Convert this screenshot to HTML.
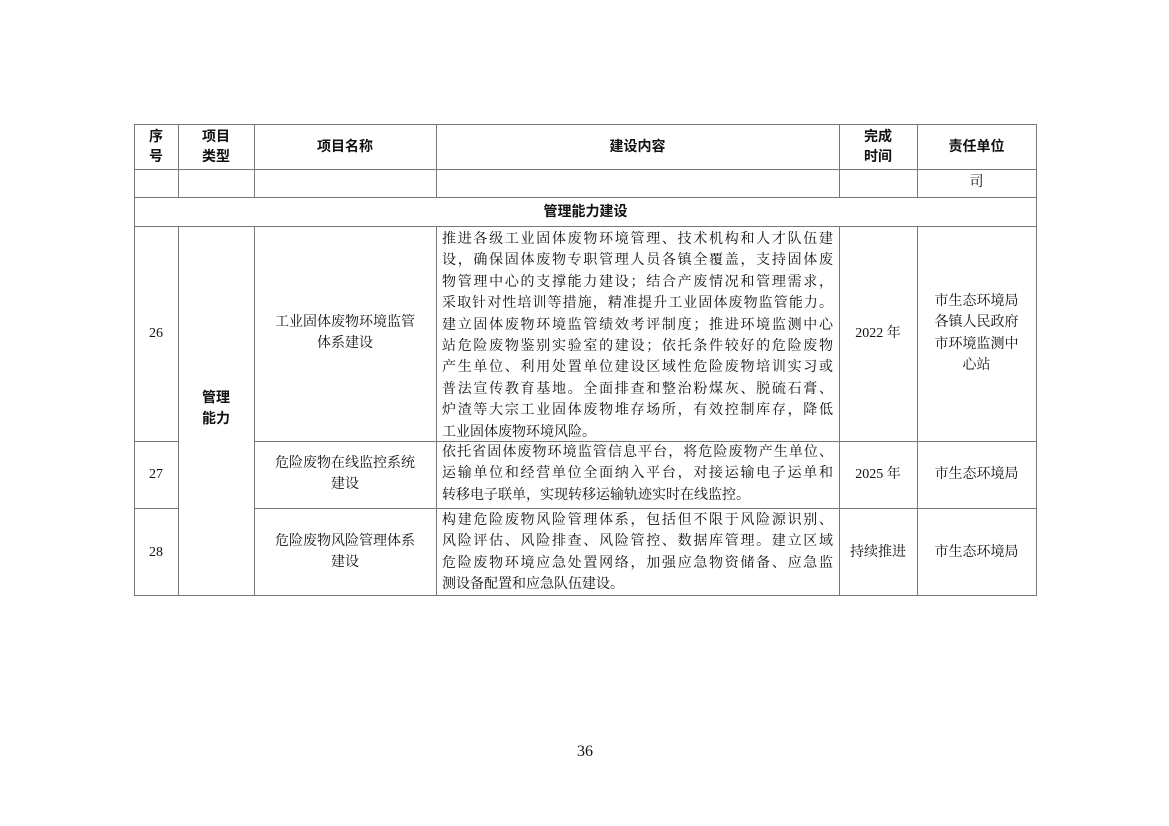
<!DOCTYPE html>
<html><head><meta charset="utf-8"><style>
body{margin:0;background:#fff;width:1169px;height:826px;position:relative;overflow:hidden;font-family:"Liberation Serif","Noto Serif CJK SC","Noto Sans CJK SC",serif;color:#111;}
.h,.v{position:absolute;background:#777;}
.h{height:1px}.v{width:1px}
.t{position:absolute;font-size:14px;line-height:21.4px;text-align:center;}
.b{font-family:"Noto Sans CJK SC",sans-serif;font-weight:bold;}
.c{position:absolute;left:442px;width:391px;font-size:14px;line-height:21.4px;}
.c div{text-align:justify;text-align-last:justify;white-space:nowrap;}
.c div.l{text-align-last:left;}
</style></head><body>
<div class="h" style="left:134px;top:124px;width:903px"></div>
<div class="h" style="left:134px;top:169px;width:903px"></div>
<div class="h" style="left:134px;top:197px;width:903px"></div>
<div class="h" style="left:134px;top:226px;width:903px"></div>
<div class="h" style="left:134px;top:441px;width:44px"></div>
<div class="h" style="left:254px;top:441px;width:783px"></div>
<div class="h" style="left:134px;top:508px;width:44px"></div>
<div class="h" style="left:254px;top:508px;width:783px"></div>
<div class="h" style="left:134px;top:595px;width:903px"></div>
<div class="v" style="left:134px;top:124px;height:472px"></div>
<div class="v" style="left:1036px;top:124px;height:472px"></div>
<div class="v" style="left:178px;top:124px;height:73px"></div>
<div class="v" style="left:254px;top:124px;height:73px"></div>
<div class="v" style="left:436px;top:124px;height:73px"></div>
<div class="v" style="left:839px;top:124px;height:73px"></div>
<div class="v" style="left:917px;top:124px;height:73px"></div>
<div class="v" style="left:178px;top:226px;height:370px"></div>
<div class="v" style="left:254px;top:226px;height:370px"></div>
<div class="v" style="left:436px;top:226px;height:370px"></div>
<div class="v" style="left:839px;top:226px;height:370px"></div>
<div class="v" style="left:917px;top:226px;height:370px"></div>

<div class="t b" style="left:134px;top:126px;width:44px;line-height:20px">序<br>号</div>
<div class="t b" style="left:178px;top:126px;width:76px;line-height:20px">项目<br>类型</div>
<div class="t b" style="left:254px;top:136px;width:182px">项目名称</div>
<div class="t b" style="left:436px;top:136px;width:403px">建设内容</div>
<div class="t b" style="left:839px;top:126px;width:78px;line-height:20px">完成<br>时间</div>
<div class="t b" style="left:917px;top:136px;width:119px">责任单位</div>
<div class="t" style="left:917px;top:172px;width:119px">司</div>
<div class="t b" style="left:134px;top:201px;width:903px">管理能力建设</div>
<div class="t b" style="left:178px;top:387px;width:76px;line-height:21px">管理<br>能力</div>

<div class="t" style="left:134px;top:323px;width:44px">26</div>
<div class="t" style="left:254px;top:312px;width:182px">工业固体废物环境监管<br>体系建设</div>
<div class="c" style="top:229px">
<div>推进各级工业固体废物环境管理、技术机构和人才队伍建</div>
<div>设，确保固体废物专职管理人员各镇全覆盖，支持固体废</div>
<div>物管理中心的支撑能力建设；结合产废情况和管理需求，</div>
<div>采取针对性培训等措施，精准提升工业固体废物监管能力。</div>
<div>建立固体废物环境监管绩效考评制度；推进环境监测中心</div>
<div>站危险废物鉴别实验室的建设；依托条件较好的危险废物</div>
<div>产生单位、利用处置单位建设区域性危险废物培训实习或</div>
<div>普法宣传教育基地。全面排查和整治粉煤灰、脱硫石膏、</div>
<div>炉渣等大宗工业固体废物堆存场所，有效控制库存，降低</div>
<div class="l">工业固体废物环境风险。</div>
</div>
<div class="t" style="left:839px;top:323px;width:78px">2022 年</div>
<div class="t" style="left:917px;top:291px;width:119px">市生态环境局<br>各镇人民政府<br>市环境监测中<br>心站</div>

<div class="t" style="left:134px;top:464px;width:44px">27</div>
<div class="t" style="left:254px;top:453px;width:182px">危险废物在线监控系统<br>建设</div>
<div class="c" style="top:442px">
<div>依托省固体废物环境监管信息平台，将危险废物产生单位、</div>
<div>运输单位和经营单位全面纳入平台，对接运输电子运单和</div>
<div class="l">转移电子联单，实现转移运输轨迹实时在线监控。</div>
</div>
<div class="t" style="left:839px;top:464px;width:78px">2025 年</div>
<div class="t" style="left:917px;top:464px;width:119px">市生态环境局</div>

<div class="t" style="left:134px;top:542px;width:44px">28</div>
<div class="t" style="left:254px;top:531px;width:182px">危险废物风险管理体系<br>建设</div>
<div class="c" style="top:510px">
<div>构建危险废物风险管理体系，包括但不限于风险源识别、</div>
<div>风险评估、风险排查、风险管控、数据库管理。建立区域</div>
<div>危险废物环境应急处置网络，加强应急物资储备、应急监</div>
<div class="l">测设备配置和应急队伍建设。</div>
</div>
<div class="t" style="left:839px;top:542px;width:78px">持续推进</div>
<div class="t" style="left:917px;top:542px;width:119px">市生态环境局</div>

<div class="t" style="left:560px;top:741px;width:50px;font-size:16px">36</div>
</body></html>
